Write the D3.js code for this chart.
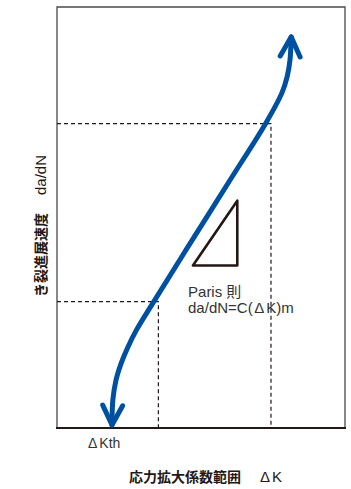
<!DOCTYPE html>
<html>
<head>
<meta charset="utf-8">
<script src="https://cdn.jsdelivr.net/npm/d3@7"></script>
<style>
  body { margin: 0; background: #fff; }
  svg { display: block; }
</style>
</head>
<body>
<svg id="paris" width="351" height="489"></svg>
<script>
// log dK (x) / log da/dN (y), arbitrary units
var curveK = [1.91, 1.94, 2.05, 2.23, 2.46, 2.76, 3.35, 4.48, 6.01, 7.25, 7.81, 7.99, 8.09, 8.13];
var curveRate = [0.07, 0.67, 1.14, 1.54, 1.92, 2.33, 2.99, 4.23, 5.89, 7.24, 7.96, 8.34, 8.74, 9.29];

// boundaries of the Paris region (threshold side / fast fracture side)
var guideK = [3.52, 7.43];
var guideRate = [3.0, 7.23];

// slope triangle
var triK = [4.72, 6.26, 6.26];
var triRate = [3.86, 5.40, 3.86];

var xLabel = '応力拡大係数範囲';
var yLabel = 'き裂進展速度';

var svg = d3.select('#paris');
var margin = { top: 7, right: 6, bottom: 61, left: 57 };
var width = 351 - margin.left - margin.right;
var height = 489 - margin.top - margin.bottom;
var g = svg.append('g').attr('transform', 'translate(' + margin.left + ',' + margin.top + ')');

var x = d3.scaleLinear().domain([0, 10]).range([0, width]);
var y = d3.scaleLinear().domain([0, 10]).range([height, 0]);

var blue = '#0050a2';
var ink = '#231815';
var latin = "'Liberation Sans', 'Noto Sans CJK JP', sans-serif";
var cjk = "'Noto Sans CJK JP', sans-serif";

var data = curveK.map(function(k, i) { return { k: k, r: curveRate[i] }; });

// frame: light on three sides, heavier base line
g.append('path')
    .attr('d', 'M0,' + y(0) + 'V0H' + width + 'V' + y(0))
    .attr('fill', 'none')
    .attr('stroke', '#4a4a4a')
    .attr('stroke-width', 1.3);

g.append('line')
    .attr('x1', -1).attr('x2', width + 1)
    .attr('y1', y(0)).attr('y2', y(0))
    .attr('stroke', ink)
    .attr('stroke-width', 2);

// dashed guide lines
guideK.forEach(function(k, i) {
    g.append('path')
        .attr('d', 'M' + x(0) + ',' + y(guideRate[i]) + 'H' + x(k) + 'V' + y(0))
        .attr('fill', 'none')
        .attr('stroke', ink)
        .attr('stroke-width', 1.2)
        .attr('stroke-dasharray', '4,3');
});

// slope triangle
g.append('path')
    .datum(triK.map(function(k, i) { return [x(k), y(triRate[i])]; }))
    .attr('d', function(d) { return d3.line()(d) + 'Z'; })
    .attr('fill', 'none')
    .attr('stroke', ink)
    .attr('stroke-width', 2.6)
    .attr('stroke-linejoin', 'round');

// crack growth curve
var line = d3.line()
    .curve(d3.curveCatmullRom.alpha(0.5))
    .x(function(d) { return x(d.k); })
    .y(function(d) { return y(d.r); });

g.append('path')
    .datum(data)
    .attr('fill', 'none')
    .attr('stroke', blue)
    .attr('stroke-width', 5)
    .attr('stroke-linecap', 'round')
    .attr('d', line);

// arrow heads at both ends
var arrowHead = function(tip, prev) {
    var tx = x(tip.k), ty = y(tip.r);
    var a = Math.atan2(ty - y(prev.r), tx - x(prev.k));
    var len = 22, spread = 0.47;
    return 'M' + (tx - len * Math.cos(a - spread)) + ',' + (ty - len * Math.sin(a - spread)) +
        'L' + tx + ',' + ty +
        'L' + (tx - len * Math.cos(a + spread)) + ',' + (ty - len * Math.sin(a + spread));
};

[[data[data.length - 1], data[data.length - 2]], [data[0], data[1]]].forEach(function(p) {
    g.append('path')
        .attr('d', arrowHead(p[0], p[1]))
        .attr('fill', 'none')
        .attr('stroke', blue)
        .attr('stroke-width', 5)
        .attr('stroke-linecap', 'round')
        .attr('stroke-linejoin', 'round');
});

// Paris law note
var note = g.append('text')
    .attr('fill', '#333')
    .style('font-family', latin)
    .style('font-size', '15px');
note.append('tspan').attr('x', x(4.55)).attr('y', 290).text('Paris 則');
note.append('tspan').attr('x', x(4.55)).attr('y', 306).text('da/dN=C(');
note.append('tspan').attr('dx', 1.5).text('Δ');
note.append('tspan').attr('dx', 2).text('K)m');

// threshold label
var th = g.append('text')
    .attr('x', x(curveK[0]) - 24)
    .attr('y', height + 20)
    .attr('fill', '#333')
    .style('font-family', latin)
    .style('font-size', '14px');
th.append('tspan').text('Δ');
th.append('tspan').attr('dx', 2).text('Kth');

// x axis title
var xt = svg.append('text')
    .attr('x', 129)
    .attr('y', 482)
    .attr('fill', ink)
    .style('font-family', cjk)
    .style('font-size', '14px');
xt.append('tspan').style('font-weight', 700).text(xLabel);
xt.append('tspan').attr('dx', 19).style('font-family', latin).style('font-size', '15px').text('Δ');
xt.append('tspan').attr('dx', 2).style('font-family', latin).style('font-size', '15px').text('K');

// y axis title
var yt = svg.append('text')
    .attr('transform', 'translate(46,297) rotate(-90)')
    .attr('fill', ink)
    .style('font-family', cjk)
    .style('font-size', '14px');
yt.append('tspan').style('font-weight', 700).text(yLabel);
yt.append('tspan').attr('dx', 18).style('font-family', latin).style('font-size', '15px').text('da/dN');
</script>
</body>
</html>
